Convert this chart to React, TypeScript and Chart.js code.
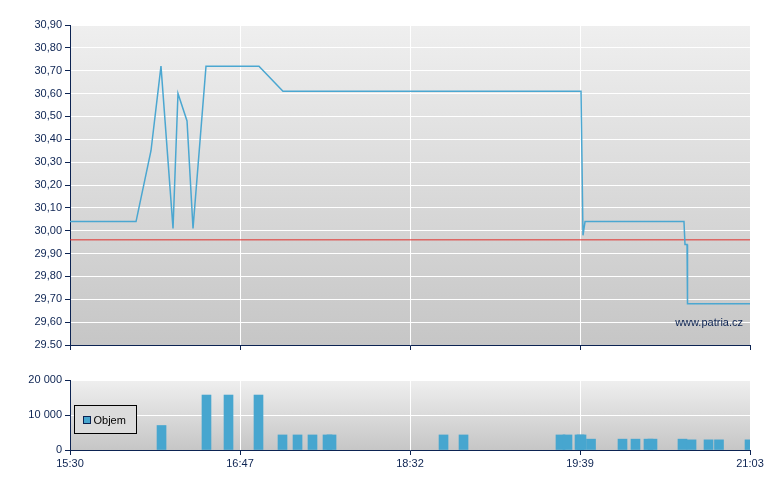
import React, { useEffect, useRef } from "react";
import { Chart, registerables } from "chart.js";

Chart.register(...registerables);

// ---- data ----
const TICK_POS = [0, 25, 50, 75, 100];
const TICK_LABELS = ["15:30", "16:47", "18:32", "19:39", "21:03"];

const PRICE_X = [0, 9.71, 11.91, 13.38, 15.15, 15.88, 17.21, 18.09, 20.0, 27.79, 31.32, 75.15, 75.44, 75.74, 90.29, 90.44, 90.74, 90.81, 100];
const PRICE_Y = [30.04, 30.04, 30.35, 30.72, 30.01, 30.6, 30.48, 30.01, 30.72, 30.72, 30.61, 30.61, 29.98, 30.04, 30.04, 29.94, 29.94, 29.68, 29.68];
const REF_PRICE = 29.96;

const PRICE_TICKS = [29.5, 29.6, 29.7, 29.8, 29.9, 30.0, 30.1, 30.2, 30.3, 30.4, 30.5, 30.6, 30.7, 30.8, 30.9];
const PRICE_TICK_LABELS = ["29.50", "29,60", "29,70", "29,80", "29,90", "30,00", "30,10", "30,20", "30,30", "30,40", "30,50", "30,60", "30,70", "30,80", "30,90"];

const VOL_X = [13.46, 20.07, 23.31, 27.72, 31.25, 33.46, 35.66, 37.87, 38.46, 54.93, 57.87, 72.13, 73.16, 74.93, 75.22, 76.62, 81.25, 83.16, 85.07, 85.66, 90.07, 91.4, 93.9, 95.44, 99.93];
const VOL_Y = [7000, 15700, 15700, 15700, 4300, 4300, 4300, 4300, 4300, 4300, 4300, 4300, 4300, 4300, 4300, 3100, 3100, 3100, 3100, 3100, 3100, 2900, 2900, 2900, 2900];
const VOL_TICKS = [0, 10000, 20000];
const VOL_TICK_LABELS = ["0", "10 000", "20 000"];

const LEGEND_LABEL = "Objem";
const WATERMARK = "www.patria.cz";

// ---- styles ----
const NAVY = "#0c2352";
const LINE_BLUE = "#4ba7d1";
const BAR_BLUE = "#47a6cf";
const RED = "#e0302c";
const FONT = { family: "'Liberation Sans', Arial, sans-serif", size: 11 };

const bgPlugin = {
  id: "bgGrad",
  beforeDraw(chart: any) {
    const { ctx, chartArea } = chart;
    const { left, top, right, bottom } = chartArea;
    const g = ctx.createLinearGradient(0, top, 0, bottom);
    g.addColorStop(0, "#efefef");
    g.addColorStop(1, "#c6c6c6");
    ctx.save();
    ctx.fillStyle = g;
    ctx.fillRect(left, top, right - left, bottom - top);
    ctx.restore();
  },
};

const watermarkPlugin = {
  id: "watermark",
  afterDatasetsDraw(chart: any) {
    const { ctx, chartArea } = chart;
    ctx.save();
    ctx.font = "11px 'Liberation Sans', Arial, sans-serif";
    ctx.fillStyle = NAVY;
    ctx.textAlign = "right";
    ctx.textBaseline = "middle";
    ctx.fillText(WATERMARK, chartArea.right - 7, chartArea.bottom - 22);
    ctx.restore();
  },
};

const legendPlugin = {
  id: "boxLegend",
  afterDraw(chart: any) {
    const { ctx, chartArea } = chart;
    const x = chartArea.left + 4.5;
    const y = chartArea.top + 25.5;
    ctx.save();
    ctx.fillStyle = "#dcdcdc";
    ctx.fillRect(x, y, 62, 28);
    ctx.strokeStyle = "#000000";
    ctx.lineWidth = 1;
    ctx.strokeRect(x, y, 62, 28);
    ctx.fillStyle = BAR_BLUE;
    ctx.fillRect(x + 9, y + 11, 7, 7);
    ctx.strokeStyle = NAVY;
    ctx.strokeRect(x + 9, y + 11, 7, 7);
    ctx.fillStyle = "#000000";
    ctx.font = "11px 'Liberation Sans', Arial, sans-serif";
    ctx.textAlign = "left";
    ctx.textBaseline = "middle";
    ctx.fillText(LEGEND_LABEL, x + 19, y + 15);
    ctx.restore();
  },
};

function xScale(showLabels: boolean, height: number) {
  return {
    type: "linear",
    min: 0,
    max: 100,
    offset: false,
    afterBuildTicks: (s: any) => {
      s.ticks = TICK_POS.map((v) => ({ value: v }));
    },
    afterFit: (s: any) => {
      s.height = height;
    },
    ticks: {
      display: showLabels,
      autoSkip: false,
      maxRotation: 0,
      minRotation: 0,
      color: NAVY,
      font: FONT,
      padding: 2,
      callback: (v: number) => {
        const i = TICK_POS.indexOf(v);
        return i >= 0 ? TICK_LABELS[i] : "";
      },
    },
    grid: { color: "#ffffff", lineWidth: 1, tickColor: NAVY, tickLength: 5, offset: false },
    border: { color: NAVY, width: 1 },
  };
}

export default function App() {
  const topRef = useRef<HTMLCanvasElement>(null);
  const botRef = useRef<HTMLCanvasElement>(null);

  useEffect(() => {
    const top = new Chart(topRef.current as HTMLCanvasElement, {
      type: "line",
      data: {
        datasets: [
          {
            data: PRICE_X.map((x, i) => ({ x, y: PRICE_Y[i] })),
            borderColor: LINE_BLUE,
            borderWidth: 1.5,
            pointRadius: 0,
            tension: 0,
            fill: false,
          },
          {
            data: [
              { x: TICK_POS[0], y: REF_PRICE },
              { x: TICK_POS[TICK_POS.length - 1], y: REF_PRICE },
            ],
            borderColor: RED,
            borderWidth: 1,
            pointRadius: 0,
            fill: false,
          },
        ],
      },
      options: {
        animation: false,
        responsive: false,
        events: [],
        layout: { padding: { top: 25, right: 30, left: 0, bottom: 0 } },
        plugins: { legend: { display: false }, tooltip: { enabled: false } },
        scales: {
          x: xScale(false, 15) as any,
          y: {
            min: PRICE_TICKS[0],
            max: PRICE_TICKS[PRICE_TICKS.length - 1],
            afterBuildTicks: (s: any) => {
              s.ticks = PRICE_TICKS.map((v) => ({ value: v }));
            },
            afterFit: (s: any) => {
              s.width = 70;
            },
            ticks: {
              color: NAVY,
              font: FONT,
              padding: 3,
              callback: (v: number, i: number) => PRICE_TICK_LABELS[i],
            },
            grid: { color: "#ffffff", tickColor: NAVY, tickLength: 5 },
            border: { color: NAVY, width: 1 },
          },
        },
      },
      plugins: [bgPlugin, watermarkPlugin],
    } as any);

    const bot = new Chart(botRef.current as HTMLCanvasElement, {
      type: "bar",
      data: {
        datasets: [
          {
            data: VOL_X.map((x, i) => ({ x, y: VOL_Y[i] })),
            backgroundColor: BAR_BLUE,
            borderWidth: 0,
            barThickness: 9,
          },
        ],
      },
      options: {
        animation: false,
        responsive: false,
        events: [],
        layout: { padding: { top: 20, right: 30, left: 0, bottom: 0 } },
        plugins: { legend: { display: false }, tooltip: { enabled: false } },
        scales: {
          x: xScale(true, 40) as any,
          y: {
            min: 0,
            max: 20000,
            afterBuildTicks: (s: any) => {
              s.ticks = VOL_TICKS.map((v) => ({ value: v }));
            },
            afterFit: (s: any) => {
              s.width = 70;
            },
            ticks: {
              color: NAVY,
              font: FONT,
              padding: 3,
              callback: (v: number, i: number) => VOL_TICK_LABELS[i],
            },
            grid: { color: "#ffffff", tickColor: NAVY, tickLength: 5 },
            border: { color: NAVY, width: 1 },
          },
        },
      },
      plugins: [bgPlugin, legendPlugin],
    } as any);

    return () => {
      top.destroy();
      bot.destroy();
    };
  }, []);

  return (
    <div style={{ position: "fixed", left: 0, top: 0, width: 780, height: 490, background: "#ffffff" }}>
      <canvas ref={topRef} width={780} height={360} style={{ position: "absolute", left: 0, top: 0, display: "block" }} />
      <canvas ref={botRef} width={780} height={130} style={{ position: "absolute", left: 0, top: 360, display: "block" }} />
    </div>
  );
}
